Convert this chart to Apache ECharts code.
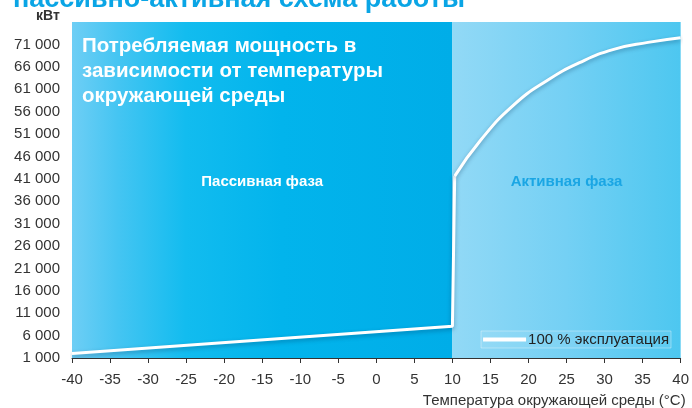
<!DOCTYPE html>
<html><head><meta charset="utf-8">
<script src="https://cdn.jsdelivr.net/npm/echarts@6/dist/echarts.min.js"></script>
<style>html,body{margin:0;padding:0;background:#fff}#c{width:692px;height:408px}</style>
</head><body><div id="c"></div>
<script>
var passiveLine = [[-40, 2000], [10, 8100], [10.3, 41600]];
var activeCurve = [[10.3, 41600], [13.7, 49600], [18, 57400], [22.5, 63000], [26.8, 67000], [31.2, 69900], [35.7, 71450], [40, 72500]];
var phases = ['Пассивная фаза', 'Активная фаза'];
var phaseRanges = [[-40, 10], [10, 40]];
var seriesName = '100 % эксплуатация';
var FONT = 'Liberation Sans, Arial, sans-serif';

var chart = echarts.init(document.getElementById('c'), null, {renderer: 'canvas'});
var lineStyle = {color: '#ffffff', width: 3, shadowColor: 'rgba(0,40,80,0.35)', shadowBlur: 4, shadowOffsetY: 2};
chart.setOption({
  animation: false,
  textStyle: {fontFamily: FONT},
  title: [
    {text: 'пассивно-активная схема работы', left: 8, top: -19,
     textStyle: {color: '#0aa5e5', fontSize: 27, fontWeight: 'bold', fontFamily: FONT}},
    {text: 'Потребляемая мощность в\nзависимости от температуры\nокружающей среды', left: 77, top: 29,
     textStyle: {color: '#ffffff', fontSize: 20.5, fontWeight: 'bold', lineHeight: 25, fontFamily: FONT}},
    {text: 'кВт', left: 31, top: 4,
     textStyle: {color: '#333', fontSize: 14, fontWeight: 'bold', fontFamily: FONT}}
  ],
  grid: {left: 72, right: 11, top: 22, bottom: 50},
  legend: {
    data: [seriesName], right: 21, top: 331, padding: [1, 2],
    icon: 'rect', itemWidth: 43, itemHeight: 4, itemGap: 4,
    backgroundColor: 'rgba(255,255,255,0.08)', borderColor: 'rgba(255,255,255,0.35)', borderWidth: 1,
    textStyle: {color: '#222', fontSize: 15, fontFamily: FONT, padding: [0, 0, 0, -3]},
    itemStyle: {color: '#fff'}
  },
  xAxis: {
    type: 'value', min: -40, max: 40, interval: 5,
    name: 'Температура окружающей среды (°C)', nameLocation: 'end', nameGap: 5,
    nameTextStyle: {color: '#333', fontSize: 15, align: 'right', verticalAlign: 'top', padding: [35, 0, 0, 0]},
    axisLine: {show: true, lineStyle: {color: '#333', width: 1}},
    axisTick: {show: true, length: 5, lineStyle: {color: '#333'}},
    axisLabel: {color: '#333', fontSize: 15, margin: 14},
    splitLine: {show: false}
  },
  yAxis: {
    type: 'value', min: 1000, max: 76000, interval: 1000,
    axisLine: {show: false}, axisTick: {show: false}, splitLine: {show: false},
    axisLabel: {color: '#333', fontSize: 15, margin: 12,
      formatter: function (v) {
        if ((v - 1000) % 5000 !== 0 || v > 71000) return '';
        var s = String(v);
        return s.length > 3 ? s.slice(0, s.length - 3) + ' ' + s.slice(-3) : s;
      }}
  },
  series: [
    {
      name: seriesName, type: 'line', data: passiveLine, symbol: 'none', smooth: false,
      lineStyle: lineStyle, z: 3,
      markArea: {
        silent: true,
        data: [
          [{xAxis: phaseRanges[0][0], name: phases[0],
            itemStyle: {color: {type: 'linear', x: 0, y: 0, x2: 1, y2: 0, colorStops: [
              {offset: 0, color: '#6ecef5'}, {offset: 0.12, color: '#45c5f2'}, {offset: 0.3, color: '#12bcef'},
              {offset: 0.55, color: '#02b4ec'}, {offset: 1, color: '#00ade8'}]}},
            label: {show: true, position: 'inside', color: '#fff', fontWeight: 'bold', fontSize: 15, offset: [0, -8], fontFamily: FONT}},
           {xAxis: phaseRanges[0][1]}],
          [{xAxis: phaseRanges[1][0], name: phases[1],
            itemStyle: {color: {type: 'linear', x: 0, y: 0, x2: 1, y2: 0, colorStops: [
              {offset: 0, color: '#92d9f6'}, {offset: 0.5, color: '#74d0f4'}, {offset: 1, color: '#4dc7f0'}]}},
            label: {show: true, position: 'inside', color: '#1aa6e4', fontWeight: 'bold', fontSize: 15, offset: [0, -8], fontFamily: FONT}},
           {xAxis: phaseRanges[1][1]}]
        ]
      }
    },
    {
      name: seriesName, type: 'line', data: activeCurve, symbol: 'none', smooth: 0.5,
      lineStyle: lineStyle, z: 3
    }
  ]
});
</script></body></html>
